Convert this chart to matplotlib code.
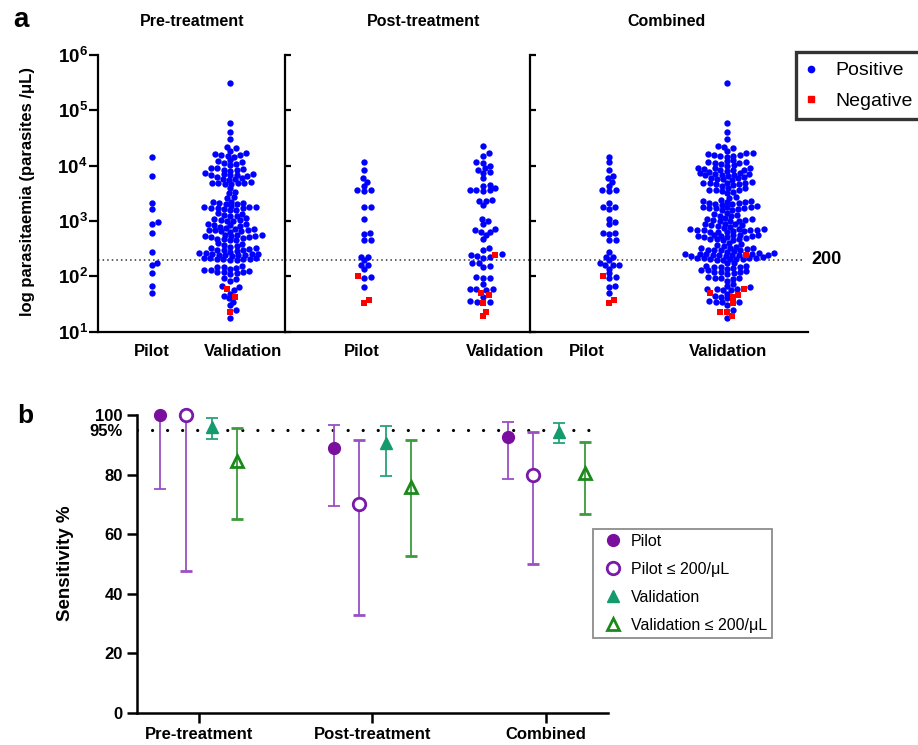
import numpy as np
import matplotlib
matplotlib.use("Agg")
import matplotlib.pyplot as plt
from matplotlib.lines import Line2D

plt.rcParams.update({
    "font.family": ["Liberation Sans", "DejaVu Sans"],
    "mathtext.fontset": "custom",
    "mathtext.bf": "Liberation Sans:bold",
    "mathtext.rm": "Liberation Sans:bold",
    "axes.linewidth": 1.6,
})

# ---------------- panel a data (parasites / uL) ----------------
pre_pilot_pos = [14500, 6600, 2100, 1650, 950, 880, 620, 280, 175, 158, 113, 67, 51]
pre_pilot_neg = []

pre_val_pos = [
    316000, 58000, 41000, 30000,
    22000, 20600, 18700,
    16700, 16200, 15800, 15600, 15000, 14600,
    12700, 12200, 11800, 11300, 10700, 10300,
    9000, 8900, 8600, 8400, 8200, 8100,
    7300, 7200, 7000, 6900, 6800, 6700, 6500, 6300,
    5900, 5800, 5700, 5500,
    5000, 4950, 4900, 4850, 4800, 4700, 4650,
    3900, 3400, 3150, 2750, 2600,
    2250, 2200, 2150, 2100, 2050, 2000,
    1850, 1820, 1800, 1780, 1750, 1720, 1700, 1680, 1600, 1550,
    1400, 1350, 1300, 1250, 1220,
    1120, 1100, 1060, 1040, 1010, 990,
    890, 870, 850, 830, 810, 790,
    740, 730, 720, 700, 690, 680, 660, 650, 640,
    570, 560, 550, 545, 540, 530, 520, 510,
    490, 480, 470, 460, 445,
    400, 390, 370, 355, 345,
    325, 320, 310, 305, 300, 295, 285, 280,
    265, 260, 258, 255, 250, 248, 245, 242, 240, 235,
    218, 215, 212, 210, 208, 205, 203, 200, 198,
    152, 148, 145, 140, 135,
    130, 128, 125, 122, 120, 118, 115, 112,
    92, 88, 84,
    67, 63, 57,
    49, 45, 40,
    35, 30, 25, 17.5,
]
pre_val_neg = [60, 42, 23]

post_pilot_pos = [11500, 8300, 5900, 5100, 4350, 3650, 3600, 3550, 1780, 1760, 1090,
                  610, 590, 460, 450, 228, 224, 194, 162, 158, 136, 96, 94, 63]
post_pilot_neg = [103, 37, 33]

post_val_pos = [23000, 16700, 15200, 11600, 11400, 10000, 8900, 8500, 7700, 7500, 6100,
                4400, 4300, 3900, 3700, 3650, 3600, 3550, 2350, 2320, 2300, 1950,
                1070, 1000, 885, 710, 700, 645, 635, 560, 475, 330, 300, 252, 248,
                234, 222, 218, 173, 171, 151, 149, 96, 95, 94, 72, 60, 59, 58, 57,
                43, 36, 35, 34]
post_val_neg = [245, 51, 47, 33, 23, 19.5]

# ---------------- panel b data (sensitivity %) ----------------
groups = ["Pre-treatment", "Post-treatment", "Combined"]
pilot_sens = [100, 88.8, 92.5]
pilot_lo = [75.3, 69.5, 78.5]
pilot_hi = [100, 96.6, 97.5]
pilot200_sens = [100, 70.0, 80.0]
pilot200_lo = [47.8, 32.9, 50.0]
pilot200_hi = [100, 91.6, 94.2]
val_sens = [96.1, 90.5, 94.4]
val_lo = [91.9, 79.4, 90.6]
val_hi = [98.9, 96.2, 97.2]
val200_sens = [84.4, 75.9, 80.4]
val200_lo = [65.0, 52.8, 66.7]
val200_hi = [95.5, 91.6, 90.9]

W, H = 918, 745
fig = plt.figure(figsize=(W / 100, H / 100), dpi=100)


def px_axes(l, t, r, b):
    return fig.add_axes([l / W, 1 - b / H, (r - l) / W, (b - t) / H])


def ftext(x, y, s, **kw):
    fig.text(x / W, 1 - y / H, s, **kw)


def swarm(ypx, dx_min, dy_min):
    # beeswarm in pixel space with an elliptical exclusion zone
    xs = np.zeros(len(ypx))
    placed = []
    for i in np.argsort(ypx):
        y = ypx[i]
        cands = [0.0]
        for px, py in placed:
            dy = abs(py - y)
            if dy < dy_min:
                dx = dx_min * np.sqrt(1 - (dy / dy_min) ** 2)
                cands += [px + dx, px - dx]
        cands.sort(key=abs)
        for c in cands:
            if all(((c - px) / dx_min) ** 2 + ((y - py) / dy_min) ** 2 >= 1 - 1e-6
                   for px, py in placed):
                break
        xs[i] = c
        placed.append((c, y))
    return xs


def draw_group(ax, cx, pos, neg):
    vals = np.array(list(pos) + list(neg), dtype=float)
    ypx = ax.transData.transform(np.column_stack([np.full(len(vals), cx), vals]))[:, 1]
    xs = cx + swarm(ypx, 6.6, 4.3)
    n = len(pos)
    ax.scatter(xs[:n], vals[:n], s=21, color="#0000ff", marker="o", linewidths=0, zorder=3)
    if len(neg):
        ax.scatter(xs[n:], vals[n:], s=22, color="#ff0000", marker="s", linewidths=0, zorder=4)


# ---------------- panel a ----------------
top, bot = 55, 331.7
boxes = [(98, 285), (285, 530), (530, 808)]
pilot_x = [54, 79, 79]
val_x = [132, 198, 197]
label_x = [(54, 145), (77, 220), (57, 198)]
sets = [
    (pre_pilot_pos, pre_pilot_neg, pre_val_pos, pre_val_neg),
    (post_pilot_pos, post_pilot_neg, post_val_pos, post_val_neg),
    (pre_pilot_pos + post_pilot_pos, pre_pilot_neg + post_pilot_neg,
     pre_val_pos + post_val_pos, pre_val_neg + post_val_neg),
]
decades = [1e1, 1e2, 1e3, 1e4, 1e5, 1e6]

for k, (l, r) in enumerate(boxes):
    ax = px_axes(l, top, r, bot)
    ax.set_yscale("log")
    ax.set_ylim(10, 1e6)
    ax.set_xlim(0, r - l)
    ax.spines["top"].set_visible(False)
    ax.spines["right"].set_visible(False)
    ax.set_yticks(decades)
    ax.minorticks_off()
    if k == 0:
        ax.set_yticklabels([r"$\mathbf{10^{%d}}$" % e for e in range(1, 7)], fontsize=13.5)
        ax.tick_params(axis="y", direction="out", length=6.5, width=1.6, pad=1)
    else:
        ax.set_yticklabels([])
        ax.tick_params(axis="y", direction="in", length=4.5, width=1.6)
    ax.set_xticks(label_x[k])
    ax.set_xticklabels(["Pilot", "Validation"], fontsize=12, fontweight="bold")
    ax.tick_params(axis="x", length=0, pad=9)
    ax.axhline(200, xmin=0, xmax=0.985 if k == 2 else 1, color="#333333", lw=1.1,
               ls=(0, (1, 2)), zorder=1)
    pp, pn, vp, vn = sets[k]
    draw_group(ax, pilot_x[k], pp, pn)
    draw_group(ax, val_x[k], vp, vn)

ftext(192, 22, "Pre-treatment", fontsize=11.5, fontweight="bold", ha="center", va="center")
ftext(424, 22, "Post-treatment", fontsize=11.5, fontweight="bold", ha="center", va="center")
ftext(667, 22, "Combined", fontsize=11.5, fontweight="bold", ha="center", va="center")
ftext(21, 20, "a", fontsize=20, fontweight="bold", ha="center", va="center")
ftext(27.5, 192, "log parasitaemia (parasites /\u03bcL)", fontsize=12, fontweight="bold",
      rotation=90, ha="center", va="center")
ftext(827, 260, "200", fontsize=13, fontweight="bold", ha="center", va="center")

leg_a = fig.legend(
    handles=[Line2D([], [], ls="none", marker="o", ms=4.5, color="#0000ff", label="Positive"),
             Line2D([], [], ls="none", marker="s", ms=4.5, color="#ff0000", label="Negative")],
    loc="upper left", bbox_to_anchor=(796 / W, 1 - 52 / H), fontsize=14,
    frameon=True, fancybox=False, edgecolor="black", borderaxespad=0,
    handlelength=0.5, handletextpad=1.0, labelspacing=0.65, borderpad=0.5,
)
leg_a.get_frame().set_linewidth(2.4)

# ---------------- panel b ----------------
axb = px_axes(137, 415, 608, 713)
axb.set_xlim(-0.357, 2.357)
axb.set_ylim(0, 100)
axb.spines["top"].set_visible(False)
axb.spines["right"].set_visible(False)
axb.spines["left"].set_linewidth(1.8)
axb.spines["bottom"].set_linewidth(1.8)

xc = np.arange(len(groups))
series = [
    (pilot_sens, pilot_lo, pilot_hi, -0.222, dict(marker="o", ms=8.5, color="#7a0f9e", mfc="#7a0f9e"), "#9b4fc4", "Pilot"),
    (pilot200_sens, pilot200_lo, pilot200_hi, -0.075, dict(marker="o", ms=9, color="#7a1aa8", mfc="white", mew=2.0), "#9b4fc4", "Pilot \u2264 200/\u03bcL"),
    (val_sens, val_lo, val_hi, 0.075, dict(marker="^", ms=8.5, color="#139b6e", mfc="#139b6e"), "#26a37a", "Validation"),
    (val200_sens, val200_lo, val200_hi, 0.222, dict(marker="^", ms=9, color="#1b8a1b", mfc="none", mew=2.0), "#3c9b3c", "Validation \u2264 200/\u03bcL"),
]
handles = []
for sens, lo, hi, off, mk, ecol, name in series:
    sens = np.array(sens)
    yerr = [sens - np.array(lo), np.array(hi) - sens]
    cont = axb.errorbar(xc + off, sens, yerr=yerr, ls="none", ecolor=ecol, elinewidth=1.3,
                        capsize=4.2, capthick=1.3, zorder=3, **mk)
    for art in cont.get_children():
        art.set_clip_on(False)
    handles.append(Line2D([], [], ls="none", label=name, **mk))

axb.axhline(95, xmin=0, xmax=(603 - 137) / (608 - 137), color="black", lw=2.3,
            ls=(0, (0.01, 4.7)), dash_capstyle="round", zorder=2)

axb.set_yticks([0, 20, 40, 60, 80, 95, 100])
axb.set_yticklabels(["0", "20", "40", "60", "80", "95%", "100"], fontsize=12, fontweight="bold")
axb.tick_params(axis="y", length=7.2, width=1.8, pad=3)
axb.yaxis.get_major_ticks()[5].tick1line.set_visible(False)
axb.set_xticks(xc)
axb.set_xticklabels(groups, fontsize=12, fontweight="bold")
axb.tick_params(axis="x", length=7.2, width=1.8, pad=3)

ftext(25, 416, "b", fontsize=19, fontweight="bold", ha="center", va="center")
ftext(65, 563, "Sensitivity %", fontsize=13.5, fontweight="bold", rotation=90,
      ha="center", va="center")

leg_b = fig.legend(handles=handles, loc="upper left", bbox_to_anchor=(593 / W, 1 - 529 / H),
                   fontsize=11.5, frameon=True, fancybox=False, edgecolor="#707070",
                   borderaxespad=0, handlelength=1.9, handletextpad=0.15, labelspacing=0.82,
                   borderpad=0.3)
leg_b.get_frame().set_linewidth(1.3)

fig.savefig("out.png", dpi=100)
